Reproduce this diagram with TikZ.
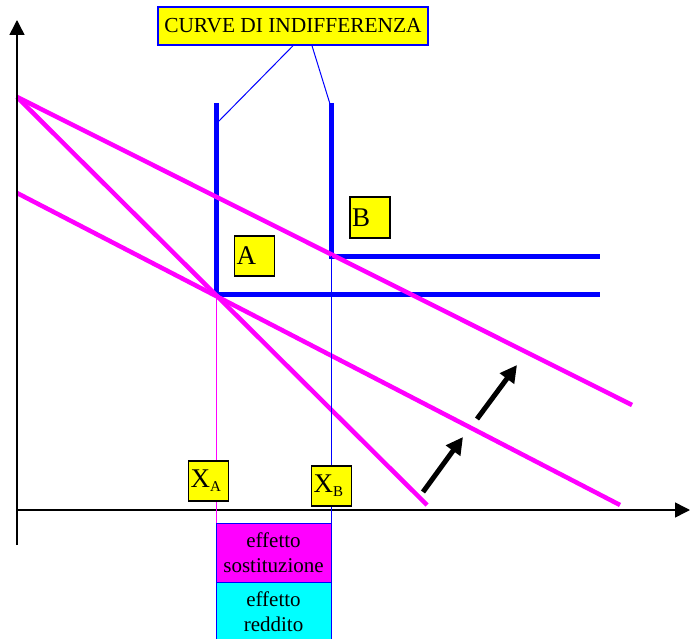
\documentclass[tikz,border=0pt]{standalone}
\usepackage{fontspec}
\setmainfont{Liberation Serif}
\usetikzlibrary{arrows.meta,positioning}
\definecolor{pmag}{RGB}{255,0,255}
\definecolor{pcyan}{RGB}{0,255,255}
\definecolor{pblue}{RGB}{0,0,255}
\definecolor{pyel}{RGB}{255,255,0}
\tikzset{lbl/.style={draw=black,line width=1.5pt,fill=pyel,minimum width=40pt,minimum height=40pt,inner xsep=2pt,inner ysep=0pt,text width=36pt,align=left,text=black,font=\fontsize{27}{27}\selectfont},
effbox/.style={draw=pblue,line width=0.6pt,minimum width=115pt,inner sep=0pt,align=center,text=black,font=\fontsize{21}{25}\selectfont}}
\tikzstyle{budget} = [pmag, line width=4.5pt]
\tikzstyle{indiff} = [pblue, line width=5pt]
\tikzstyle{axis}   = [line width=1.5pt,-{Triangle[width=15pt,length=15pt]}]
\tikzstyle{moveup} = [line width=5pt,-{Triangle[width=17pt,length=17pt]}]

\begin{document}
\begin{tikzpicture}[x=1pt,y=-1pt]
		\useasboundingbox (0,0) rectangle (690,639);
		% points
		\coordinate (O) at (17,510);
		\coordinate (Ytop) at (17,20);
		\coordinate (Ybot) at (17,545);
		\coordinate (Xend) at (690,510);
		\coordinate (EA) at (216,294);
		\coordinate (EB) at (331,256);
		\coordinate (P1) at (17,97);
		\coordinate (P2) at (17,193);

		% indifference curves
		\draw[indiff] (216,103) -- (EA) -- (600,294);
		\draw[indiff] (331,103) -- (EB) -- (600,256);

		% budget lines
		\draw[budget] (P1) -- (632,405);
		\draw[budget] (P1) -- (427,505);
		\draw[budget] (P2) -- (620,505);

		% axes
		\draw[axis] (Ybot) -- (Ytop);
		\draw[axis] (O) -- (Xend);

		% effects
		\node[effbox,fill=pmag,minimum height=59pt] (sost) at (273.5,552.5) {effetto\\sostituzione};
		\node[effbox,fill=pcyan,minimum height=58pt,below=0pt of sost] (redd) {effetto\\reddito};
		\draw[pmag,line width=0.8pt] (EA) -- (EA |- sost.north);
		\draw[pblue,line width=0.8pt] (EB) -- (EB |- redd.south);

		% labels
		\node[lbl] (A) at (254.5,256) {A};
		\node[lbl,minimum height=41pt] (B) at (370,217.5) {B};
		\node[lbl] (XA) at (208.5,481) {X\textsubscript{\fontsize{15}{15}\selectfont A}};
		\node[lbl] (XB) at (331.5,486) {X\textsubscript{\fontsize{15}{15}\selectfont B}};

		% callout
		\node[draw=pblue,line width=1.5pt,fill=pyel,minimum width=270pt,minimum height=38pt,inner sep=0pt,text=black,font=\fontsize{21.4}{21.4}\selectfont] (callout) at (293,26) {CURVE DI INDIFFERENZA};
		\coordinate (tipA) at (218,122);
		\coordinate (tipB) at (330,104);
		\draw[pblue,line width=1pt] (callout.south) -- (tipA);
		\draw[pblue,line width=1pt] ([xshift=19pt]callout.south) -- (tipB);

		% income shift
		\draw[moveup] (423,492) -- (463,437);
		\draw[moveup] (477,419) -- (517,365);
	\end{tikzpicture}
\end{document}
